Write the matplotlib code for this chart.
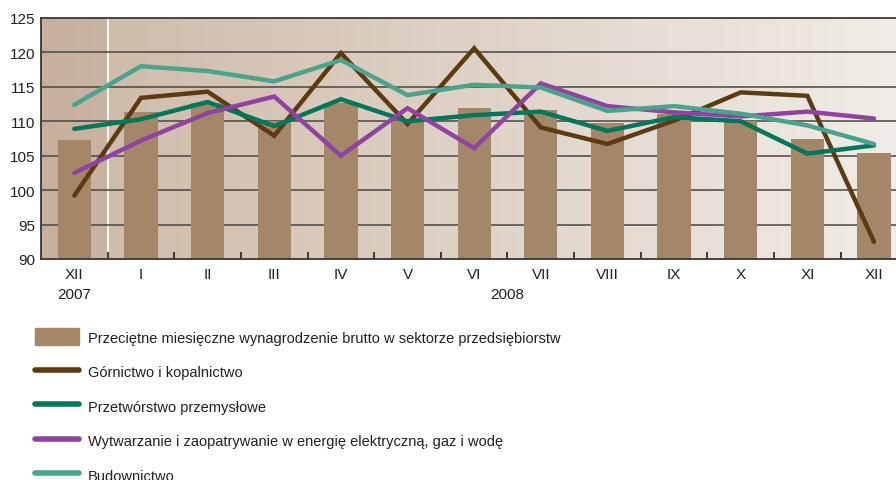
import matplotlib.pyplot as plt
import numpy as np
from matplotlib.patches import Patch
from matplotlib.lines import Line2D

plt.rcParams['font.family'] = ['Liberation Sans', 'DejaVu Sans']

months = ['XII', 'I', 'II', 'III', 'IV', 'V', 'VI', 'VII', 'VIII', 'IX', 'X', 'XI', 'XII']
years = {0: '2007', 6.5: '2008'}

# przeciętne wynagrodzenie (słupki)
wynagrodzenie = [107.3, 111.4, 112.6, 110.1, 112.7, 110.0, 112.0, 111.6, 109.8, 111.0, 110.1, 107.4, 105.4]
gornictwo = [99.2, 113.4, 114.3, 107.9, 119.9, 109.6, 120.6, 109.1, 106.7, 110.1, 114.2, 113.7, 92.5]
przetworstwo = [108.9, 110.3, 112.8, 109.3, 113.2, 110.0, 110.9, 111.4, 108.6, 110.6, 110.0, 105.3, 106.5]
energia = [102.5, 107.2, 111.2, 113.6, 105.0, 111.9, 106.1, 115.5, 112.2, 111.3, 110.7, 111.4, 110.4]
budownictwo = [112.4, 118.0, 117.3, 115.8, 118.9, 113.8, 115.3, 114.9, 111.5, 112.2, 111.1, 109.4, 106.7]

labels = ['Przeciętne miesięczne wynagrodzenie brutto w sektorze przedsiębiorstw',
          'Górnictwo i kopalnictwo',
          'Przetwórstwo przemysłowe',
          'Wytwarzanie i zaopatrywanie w energię elektryczną, gaz i wodę',
          'Budownictwo']
bar_color = '#a48769'
line_colors = ['#5c3a12', '#00775a', '#8e44a0', '#4aa38c']

fig = plt.figure(figsize=(8.96, 4.81), dpi=100)
ax = fig.add_axes([41 / 896, 1 - 260 / 481, 1 - 41 / 896, 241 / 481])

x = np.arange(len(months))
xmax = 12.33
ax.set_xlim(-0.5, xmax)
ax.set_ylim(90, 125)

# tło z gradientem
c0 = np.array([0xcc, 0xb8, 0xa6]) / 255
c1 = np.array([0xf1, 0xec, 0xe7]) / 255
t = np.linspace(0, 1, 300)[None, :, None]
grad = c0 + (c1 - c0) * t
ax.imshow(grad, extent=(-0.5, xmax, 90, 125), aspect='auto', zorder=0)
ax.axvspan(-0.5, 0.5, color='#b59c86', alpha=0.25, lw=0, zorder=0.5)
ax.axvline(0.5, color='white', lw=1.2, zorder=0.6)

for yv in range(95, 125, 5):
    ax.axhline(yv, color='#4a4540', lw=1.1, zorder=1)

ax.bar(x, [v - 90 for v in wynagrodzenie], bottom=90, width=0.5, color=bar_color, zorder=2)

for series, col in zip([gornictwo, przetworstwo, energia, budownictwo], line_colors):
    ax.plot(x, series, color=col, lw=3.2, solid_capstyle='round', solid_joinstyle='miter', zorder=3)

ax.set_yticks(range(90, 126, 5))
ax.tick_params(axis='y', length=0, labelsize=11, colors='#231f20', pad=4)
ax.set_xticks(x)
ax.set_xticklabels(months)
ax.tick_params(axis='x', length=0, labelsize=11, colors='#231f20', pad=6)
ax.set_xticks(np.arange(0.5, 12, 1), minor=True)
ax.tick_params(axis='x', which='minor', direction='in', length=5, width=1.2, color='#231f20')
for xp, yr in years.items():
    ax.text(xp, 84.9, yr, ha='center', va='center', fontsize=11, color='#231f20')

for side in ['left', 'bottom', 'top']:
    ax.spines[side].set_color('#3a3633')
    ax.spines[side].set_linewidth(1.3)
ax.spines['right'].set_visible(False)

handles = [Patch(color=bar_color)] + [Line2D([], [], color=c, lw=4, solid_capstyle='round') for c in line_colors]
fig.legend(handles, labels, loc='upper left', bbox_to_anchor=(28 / 896, 1 - 322 / 481),
           frameon=False, fontsize=10.5, handlelength=3.0, handleheight=1.4,
           labelspacing=1.22, handletextpad=0.6, labelcolor='#231f20', borderpad=0)

fig.savefig('out.png', dpi=100)
